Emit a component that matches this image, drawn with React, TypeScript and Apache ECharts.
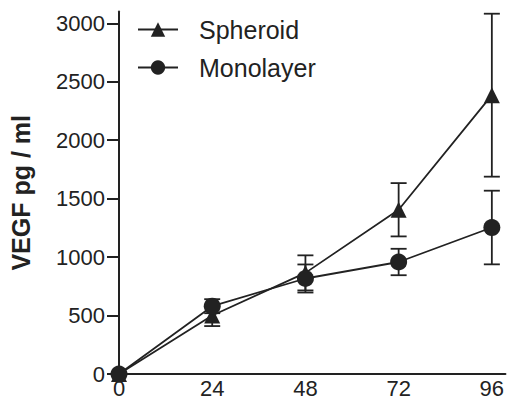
import React, { useEffect, useRef } from "react";
import * as echarts from "echarts";

const hours = [0, 24, 48, 72, 96];
const spheroid = [0, 500, 865, 1405, 2385];
const spheroidErr = [0, 90, 150, 228, 697];
const monolayer = [0, 580, 817, 958, 1253];
const monolayerErr = [0, 60, 120, 113, 315];
const yTicks = [0, 500, 1000, 1500, 2000, 2500, 3000];
const xTicks = [0, 24, 48, 72, 96];

const INK = "#222";
const FONT = "Liberation Sans, Arial, Helvetica, sans-serif";

function errSeries(values: number[], errs: number[], z: number) {
  return {
    type: "custom",
    z,
    silent: true,
    data: hours.map((h, i) => [h, values[i], errs[i]]),
    encode: { x: 0, y: 1 },
    renderItem: (params: any, api: any) => {
      const x = api.value(0);
      const y = api.value(1);
      const e = api.value(2);
      if (!e) return { type: "group", children: [] };
      const top = api.coord([x, y + e]);
      const bot = api.coord([x, y - e]);
      const hw = 8;
      const style = { stroke: INK, lineWidth: 1.8 };
      return {
        type: "group",
        children: [
          { type: "line", shape: { x1: top[0], y1: top[1], x2: bot[0], y2: bot[1] }, style },
          { type: "line", shape: { x1: top[0] - hw, y1: top[1], x2: top[0] + hw, y2: top[1] }, style },
          { type: "line", shape: { x1: bot[0] - hw, y1: bot[1], x2: bot[0] + hw, y2: bot[1] }, style },
        ],
      };
    },
  };
}

export default function App() {
  const ref = useRef<HTMLDivElement>(null);
  useEffect(() => {
    const chart = echarts.init(ref.current!, undefined, { renderer: "svg" });
    chart.setOption({
      animation: false,
      backgroundColor: "#fff",
      textStyle: { fontFamily: FONT },
      grid: { left: 116.7, right: 0, top: 11.6, bottom: 24, containLabel: false },
      legend: {
        orient: "vertical",
        left: 137,
        top: 17,
        padding: 0,
        itemWidth: 40,
        itemHeight: 18,
        itemGap: 13,
        data: ["Spheroid", "Monolayer"],
        textStyle: { fontSize: 25, color: INK, fontFamily: FONT, lineHeight: 25, padding: [0, 0, 0, 16] },
      },
      xAxis: {
        type: "value",
        min: 0,
        max: 99.5,
        axisLine: { show: true, lineStyle: { color: INK, width: 2 } },
        axisTick: { show: false },
        splitLine: { show: false },
        axisLabel: { customValues: xTicks, fontSize: 22, color: INK, margin: 3, fontFamily: FONT, formatter: (v: number) => String(v) },
      },
      yAxis: {
        type: "value",
        min: 0,
        max: 3100,
        name: "VEGF pg / ml",
        nameLocation: "middle",
        nameGap: 86,
        nameTextStyle: { fontSize: 25, fontWeight: "bold", color: INK, fontFamily: FONT },
        axisLine: { show: true, lineStyle: { color: INK, width: 2 } },
        axisTick: { show: true, customValues: yTicks, length: 12, lineStyle: { color: INK, width: 2 } },
        splitLine: { show: false },
        axisLabel: { customValues: yTicks, fontSize: 22, color: INK, margin: 14, fontFamily: FONT, formatter: (v: number) => String(v) },
      },
      series: [
        errSeries(spheroid, spheroidErr, 1),
        errSeries(monolayer, monolayerErr, 1),
        {
          name: "Spheroid",
          type: "line",
          z: 3,
          data: hours.map((h, i) => [h, spheroid[i]]),
          symbol: "triangle",
          symbolSize: 16,
          itemStyle: { color: INK },
          lineStyle: { color: INK, width: 1.8 },
        },
        {
          name: "Monolayer",
          type: "line",
          z: 4,
          data: hours.map((h, i) => [h, monolayer[i]]),
          symbol: "circle",
          symbolSize: 17,
          itemStyle: { color: INK },
          lineStyle: { color: INK, width: 1.8 },
        },
      ],
    });
    return () => chart.dispose();
  }, []);
  return <div ref={ref} style={{ position: "absolute", left: 0, top: 0, width: 507, height: 399 }} />;
}
